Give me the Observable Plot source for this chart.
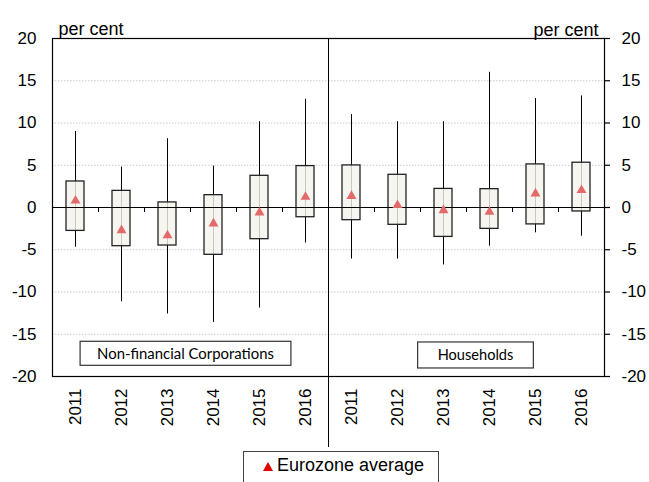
<!DOCTYPE html>
<html>
<head>
<meta charset="utf-8">
<script src="https://cdn.jsdelivr.net/npm/d3@7"></script>
<script src="https://cdn.jsdelivr.net/npm/@observablehq/plot@0.6"></script>
<style>
  body { margin: 0; background: #fff; }
  #wrap { position: relative; width: 649px; height: 482px; overflow: hidden; font-family: Arial, "Liberation Sans", sans-serif; }
  #legend { position: absolute; left: 243px; top: 451px; width: 196px; height: 40px; border: 1px solid #444; box-sizing: border-box; background: #fff; }
  #legend .item { position: absolute; left: 19px; top: 3px; font-size: 18px; color: #000; white-space: nowrap; }
  #legend svg { vertical-align: baseline; margin-right: 4px; }
</style>
</head>
<body>
<div id="wrap"><div id="chart"></div>
<div id="legend"><div class="item"><svg width="10" height="9" viewBox="0 0 10 9"><polygon points="5,0 10,9 0,9" fill="#e00000"/></svg>Eurozone average</div></div>
</div>
<script>
const sectors = ["Non-financial Corporations", "Households"];
const sectorKeys = ["NFC", "HH"];
const years = ["2011", "2012", "2013", "2014", "2015", "2016"];
const yTicks = [-20, -15, -10, -5, 0, 5, 10, 15, 20];

const nfcMin = [-4.7, -11.15, -12.6, -13.6, -11.9, -4.2];
const nfcQ1  = [-2.77, -4.58, -4.5, -5.6, -3.75, -1.15];
const nfcQ3  = [3.08, 1.97, 0.6, 1.46, 3.75, 4.9];
const nfcMax = [9.0, 4.78, 8.14, 4.9, 10.16, 12.8];
const nfcAvg = [0.8, -2.7, -3.3, -1.9, -0.6, 1.25];

const hhMin = [-6.1, -6.1, -6.8, -4.58, -3.0, -3.4];
const hhQ1  = [-1.5, -2.05, -3.48, -2.53, -2.0, -0.47];
const hhQ3  = [4.98, 3.87, 2.2, 2.17, 5.1, 5.3];
const hhMax = [11.0, 10.16, 10.16, 16.0, 12.9, 13.2];
const hhAvg = [1.35, 0.28, -0.33, -0.52, 1.65, 2.05];

const series = [
  {min: nfcMin, q1: nfcQ1, q3: nfcQ3, max: nfcMax, avg: nfcAvg},
  {min: hhMin, q1: hhQ1, q3: hhQ3, max: hhMax, avg: hhAvg}
];
const rows = [];
sectorKeys.forEach((s, i) => years.forEach((yr, j) => rows.push({
  key: s + "-" + yr, year: yr,
  min: series[i].min[j], q1: series[i].q1[j], q3: series[i].q3[j],
  max: series[i].max[j], avg: series[i].avg[j]
})));
const keys = rows.map(d => d.key);
const boundaryKeys = keys.filter((k, i) => i < keys.length - 1 && i !== 5);

const chart = Plot.plot({
  width: 649,
  height: 450,
  marginLeft: 52,
  marginRight: 45,
  marginTop: 38,
  marginBottom: 74,
  style: {fontFamily: "Arial, 'Liberation Sans', sans-serif", fontSize: "17px", background: "#fff", color: "#000", overflow: "visible"},
  x: {type: "band", domain: keys, padding: 0},
  y: {domain: [-20, 20]},
  marks: [
    Plot.ruleY(yTicks.filter(v => v !== 0 && Math.abs(v) !== 20), {stroke: "#c8c8c8", strokeDasharray: "1.5,1.5"}),
    Plot.ruleX(rows, {x: "key", y1: "min", y2: "max", stroke: "#000", strokeWidth: 1}),
    Plot.barY(rows, {x: "key", y1: "q1", y2: "q3", fill: "#f4f3ed", fillOpacity: 0.82, stroke: "#222", strokeWidth: 1.3, insetLeft: 14, insetRight: 14}),
    Plot.ruleY([0], {stroke: "#000", strokeWidth: 1}),
    Plot.ruleX(boundaryKeys, {x: d => d, y1: 0, y2: -0.6, dx: 23, stroke: "#000"}),
    Plot.dot(rows, {x: "key", y: "avg", symbol: "triangle", r: 3.7, fill: "#e26a6a", stroke: "none"}),
    Plot.frame({stroke: "#000", strokeWidth: 1.2}),
    Plot.ruleX([keys[5]], {x: d => d, y1: 20, y2: -28.4, dx: 23, stroke: "#000", strokeWidth: 1}),
    Plot.axisY(yTicks, {anchor: "left", tickSize: 0, tickPadding: 16, label: null, tickFormat: d => String(d)}),
    Plot.tickY(yTicks, {y: d => d, x: () => keys[keys.length - 1], insetLeft: 40, dx: 6, stroke: "#000", strokeWidth: 1.2}),
    Plot.text(yTicks, {y: d => d, text: d => String(d), frameAnchor: "right", dx: 17, textAnchor: "start", fontSize: 17}),
    Plot.axisX(keys, {anchor: "bottom", tickSize: 0, tickPadding: 12, tickRotate: -90, tickFormat: d => d.slice(-4), label: null}),
    Plot.text(["per cent"], {frameAnchor: "top-left", dx: 6, dy: -16, textAnchor: "start", fontSize: 18}),
    Plot.text(["per cent"], {frameAnchor: "top-right", dx: -6, dy: -15, textAnchor: "end", fontSize: 18}),
    Plot.text([sectors[0]], {x: () => keys[2], y: () => -17.4, dx: 18, fontFamily: "Lato, 'Open Sans', sans-serif", fontSize: 14.9}),
    Plot.text([sectors[1]], {x: () => keys[8], y: () => -17.55, dx: 32, fontFamily: "Lato, 'Open Sans', sans-serif", fontSize: 14.6})
  ]
});
document.getElementById("chart").appendChild(chart);

// draw boxes around panel labels
const pads = {[sectors[0]]: [17, 3], [sectors[1]]: [20, 4.5]};
chart.querySelectorAll("text").forEach(t => {
  const txt = t.textContent;
  if (pads[txt]) {
    const b = t.getBBox();
    const [px, py] = pads[txt];
    const r = document.createElementNS("http://www.w3.org/2000/svg", "rect");
    r.setAttribute("x", b.x - px);
    r.setAttribute("y", b.y - py);
    r.setAttribute("width", b.width + 2 * px);
    r.setAttribute("height", b.height + 2 * py);
    r.setAttribute("fill", "#fff");
    r.setAttribute("stroke", "#333");
    r.setAttribute("stroke-width", "1.2");
    const tf = t.getAttribute("transform");
    if (tf) r.setAttribute("transform", tf);
    t.parentNode.insertBefore(r, t);
  }
});
</script>
</body>
</html>
